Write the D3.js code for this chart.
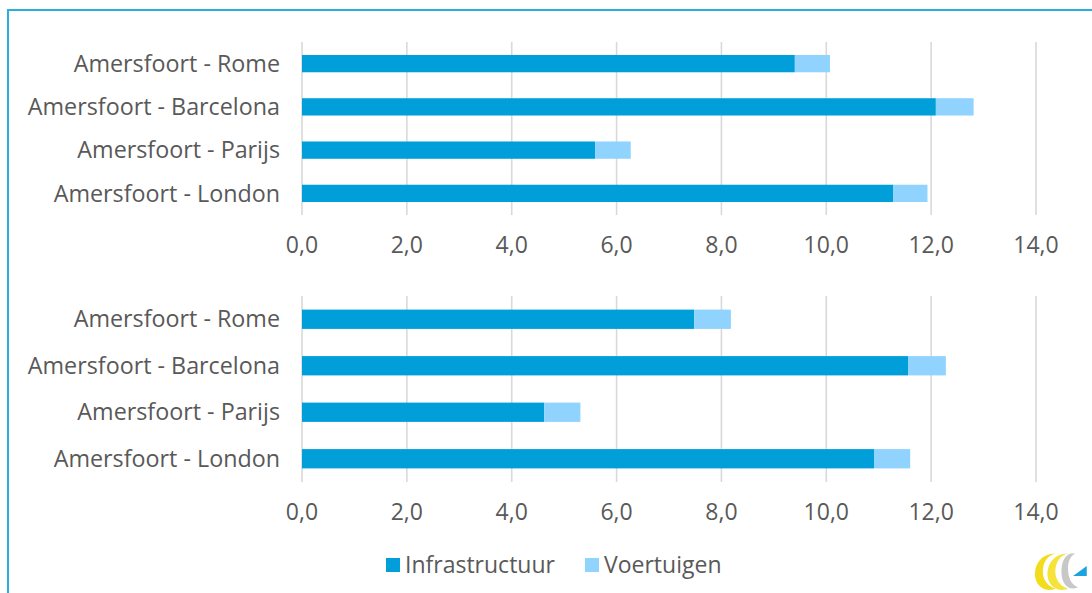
<!DOCTYPE html>
<html>
<head>
<meta charset="utf-8">
<script src="https://cdn.jsdelivr.net/npm/d3@7"></script>
<style>
    body { margin: 0; background: #ffffff; }
    svg text { font-family: "Open Sans", "DejaVu Sans", sans-serif; fill: #595959; }
</style>
</head>
<body>
<svg id="canvas" width="1092" height="593"></svg>
<script>
// data
var routes = ['Amersfoort - Rome', 'Amersfoort - Barcelona', 'Amersfoort - Parijs', 'Amersfoort - London'];
var seriesNames = ['Infrastructuur', 'Voertuigen'];
var topInfra = [9.40, 12.09, 5.59, 11.28];
var topVehicles = [0.67, 0.72, 0.68, 0.65];
var bottomInfra = [7.48, 11.56, 4.62, 10.91];
var bottomVehicles = [0.70, 0.72, 0.69, 0.69];
var xTicks = [0, 2, 4, 6, 8, 10, 12, 14];

var colors = ['#009fd9', '#8fd3fe'];

var svg = d3.select('#canvas');

// frame
svg.append('line')
    .attr('x1', 7).attr('y1', 10).attr('x2', 1092).attr('y2', 10)
    .attr('stroke', '#2bade0').attr('stroke-width', 2);
svg.append('line')
    .attr('x1', 8).attr('y1', 9).attr('x2', 8).attr('y2', 593)
    .attr('stroke', '#2bade0').attr('stroke-width', 2);

var x = d3.scaleLinear().domain([0, 14]).range([302, 1036]);

function drawPanel(infra, vehicles, y0, y1, tickY, padding) {
    var y = d3.scaleBand().domain(routes).range([y0, y1]).paddingInner(padding).paddingOuter(padding / 2);
    var g = svg.append('g');

    g.selectAll('line.grid')
        .data(xTicks)
        .enter().append('line')
        .attr('class', 'grid')
        .attr('x1', function(d) { return x(d); })
        .attr('x2', function(d) { return x(d); })
        .attr('y1', y0)
        .attr('y2', y1)
        .attr('stroke', '#d9d9d9')
        .attr('stroke-width', 1.6);

    var rows = routes.map(function(r, i) {
        return { route: r, infra: infra[i], vehicles: vehicles[i] };
    });

    g.selectAll('rect.infra')
        .data(rows)
        .enter().append('rect')
        .attr('x', x(0))
        .attr('y', function(d) { return y(d.route); })
        .attr('width', function(d) { return x(d.infra) - x(0); })
        .attr('height', y.bandwidth())
        .attr('fill', colors[0]);

    g.selectAll('rect.veh')
        .data(rows)
        .enter().append('rect')
        .attr('x', function(d) { return x(d.infra); })
        .attr('y', function(d) { return y(d.route); })
        .attr('width', function(d) { return x(d.infra + d.vehicles) - x(d.infra); })
        .attr('height', y.bandwidth())
        .attr('fill', colors[1]);

    g.selectAll('text.cat')
        .data(routes)
        .enter().append('text')
        .attr('x', 280)
        .attr('y', function(d) { return y(d) + y.bandwidth() / 2; })
        .attr('dy', '0.35em')
        .attr('text-anchor', 'end')
        .style('font-size', '23.3px')
        .text(function(d) { return d; });

    g.selectAll('text.tick')
        .data(xTicks)
        .enter().append('text')
        .attr('x', function(d) { return x(d); })
        .attr('y', tickY)
        .attr('dy', '0.35em')
        .attr('text-anchor', 'middle')
        .style('font-size', '23px')
        .text(function(d) { return d3.format('.1f')(d).replace('.', ','); });
}

drawPanel(topInfra, topVehicles, 42, 215, 245, 0.6);
drawPanel(bottomInfra, bottomVehicles, 296, 482, 512, 0.585);

// legend
var legendX = [386, 585];
var legend = svg.append('g');
seriesNames.forEach(function(name, i) {
    legend.append('rect')
        .attr('x', legendX[i]).attr('y', 558)
        .attr('width', 14).attr('height', 14)
        .attr('fill', colors[i]);
    legend.append('text')
        .attr('x', legendX[i] + 19).attr('y', 565)
        .attr('dy', '0.35em')
        .style('font-size', '23px')
        .text(name);
});

// logo, bottom right
var logo = svg.append('g').attr('transform', 'translate(1058,571) scale(1.25)');
logo.append('path')
    .attr('d', 'M-2,-14 C-14,-14 -20,-4 -18,6 C-16,14 -8,17 -2,14 C-10,12 -13,4 -12,-2 C-11,-9 -7,-13 -2,-14 Z')
    .attr('fill', '#f2dc1c');
logo.append('path')
    .attr('d', 'M8,-14 C-4,-14 -10,-4 -8,6 C-6,14 2,17 8,14 C0,12 -3,4 -2,-2 C-1,-9 3,-13 8,-14 Z')
    .attr('fill', '#f5e33a');
logo.append('path')
    .attr('d', 'M10,-14 C4,-12 2,-4 3,4 C4,12 10,16 16,13 C10,11 8,4 8,-2 C8,-8 10,-12 14,-14 Z')
    .attr('fill', '#c8c8c8');
logo.append('path')
    .attr('d', 'M12,4 L23,-4 L23,4 Z')
    .attr('fill', '#1aa3e0');
</script>
</body>
</html>
